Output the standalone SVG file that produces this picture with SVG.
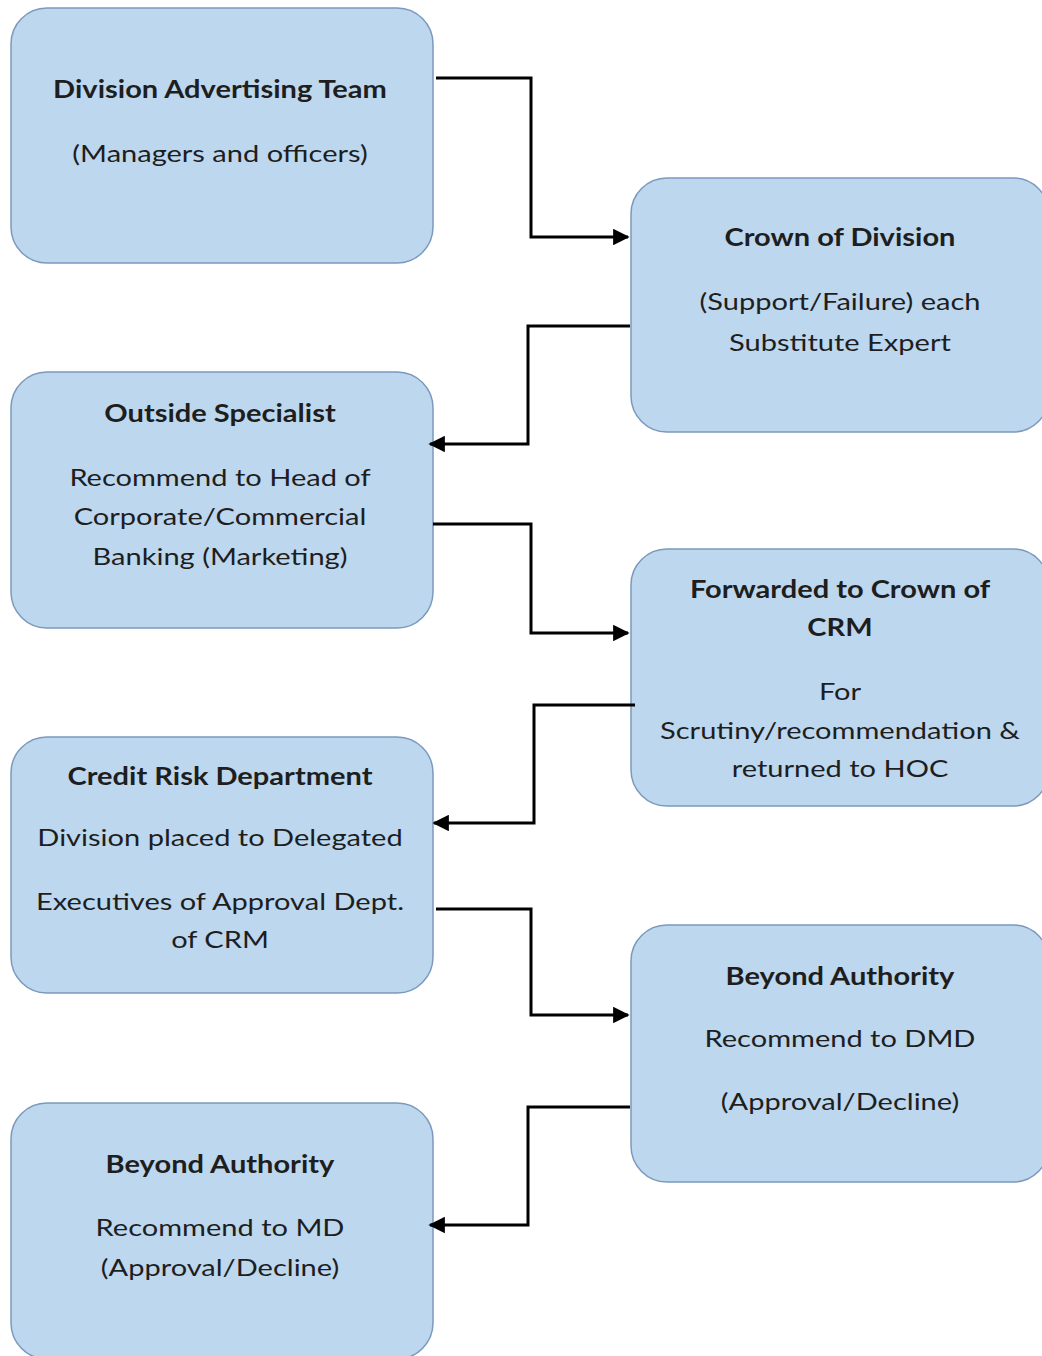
<svg xmlns="http://www.w3.org/2000/svg" width="1042" height="1356" viewBox="0 0 1042 1356">
  <style>
    .box { fill: #bdd7ee; stroke: #7b99bd; stroke-width: 1.5; }
    .t { font-family: Lato, "Open Sans", "Liberation Sans", sans-serif; font-size: 24px; fill: #1e1e1e; text-anchor: middle; }
    .b { font-weight: bold; }
    .link { fill: none; stroke: #000; stroke-width: 3; stroke-linejoin: miter; }
  </style>
  <defs>
    <marker id="arrow" viewBox="0 0 10 10" refX="9" refY="5" markerWidth="5.5" markerHeight="5.5" markerUnits="strokeWidth" orient="auto">
      <path d="M0,0 L10,5 L0,10 Z" fill="#000"/>
    </marker>
  </defs>
  <rect width="1042" height="1356" fill="#ffffff"/>

  <g id="division-advertising-team">
    <rect class="box" x="11" y="8" width="422" height="255" rx="36" ry="36"/>
    <g transform="translate(220 0) scale(1.21 1)">
      <text class="t b" x="0" y="98">Division Advertising Team</text>
      <text class="t" x="0" y="162">(Managers and officers)</text>
    </g>
  </g>

  <g id="crown-of-division">
    <rect class="box" x="631" y="178" width="418" height="254" rx="36" ry="36"/>
    <g transform="translate(840 0) scale(1.21 1)">
      <text class="t b" x="0" y="246">Crown of Division</text>
      <text class="t" x="0" y="310">(Support/Failure) each</text>
      <text class="t" x="0" y="351">Substitute Expert</text>
    </g>
  </g>

  <g id="outside-specialist">
    <rect class="box" x="11" y="372" width="422" height="256" rx="36" ry="36"/>
    <g transform="translate(220 0) scale(1.21 1)">
      <text class="t b" x="0" y="422">Outside Specialist</text>
      <text class="t" x="0" y="486">Recommend to Head of</text>
      <text class="t" x="0" y="525">Corporate/Commercial</text>
      <text class="t" x="0" y="565">Banking (Marketing)</text>
    </g>
  </g>

  <g id="forwarded-to-crown-of-crm">
    <rect class="box" x="631" y="549" width="418" height="257" rx="36" ry="36"/>
    <g transform="translate(840 0) scale(1.21 1)">
      <text class="t b" x="0" y="598">Forwarded to Crown of</text>
      <text class="t b" x="0" y="636">CRM</text>
      <text class="t" x="0" y="700">For</text>
      <text class="t" x="0" y="739">Scrutiny/recommendation &amp;</text>
      <text class="t" x="0" y="777">returned to HOC</text>
    </g>
  </g>

  <g id="credit-risk-department">
    <rect class="box" x="11" y="737" width="422" height="256" rx="36" ry="36"/>
    <g transform="translate(220 0) scale(1.21 1)">
      <text class="t b" x="0" y="785">Credit Risk Department</text>
      <text class="t" x="0" y="846">Division placed to Delegated</text>
      <text class="t" x="0" y="910">Executives of Approval Dept.</text>
      <text class="t" x="0" y="948">of CRM</text>
    </g>
  </g>

  <g id="beyond-authority-dmd">
    <rect class="box" x="631" y="925" width="418" height="257" rx="36" ry="36"/>
    <g transform="translate(840 0) scale(1.21 1)">
      <text class="t b" x="0" y="985">Beyond Authority</text>
      <text class="t" x="0" y="1047">Recommend to DMD</text>
      <text class="t" x="0" y="1110">(Approval/Decline)</text>
    </g>
  </g>

  <g id="beyond-authority-md">
    <rect class="box" x="11" y="1103" width="422" height="256" rx="36" ry="36"/>
    <g transform="translate(220 0) scale(1.21 1)">
      <text class="t b" x="0" y="1173">Beyond Authority</text>
      <text class="t" x="0" y="1236">Recommend to MD</text>
      <text class="t" x="0" y="1276">(Approval/Decline)</text>
    </g>
  </g>

  <g id="connectors">
    <path class="link" d="M436,78 H531 V237 H628" marker-end="url(#arrow)"/>
    <path class="link" d="M630,326 H528 V444 H430" marker-end="url(#arrow)"/>
    <path class="link" d="M433,524 H531 V633 H628" marker-end="url(#arrow)"/>
    <path class="link" d="M635,705 H534 V823 H434" marker-end="url(#arrow)"/>
    <path class="link" d="M436,909 H531 V1015 H628" marker-end="url(#arrow)"/>
    <path class="link" d="M630,1107 H528 V1225 H430" marker-end="url(#arrow)"/>
  </g>
</svg>
